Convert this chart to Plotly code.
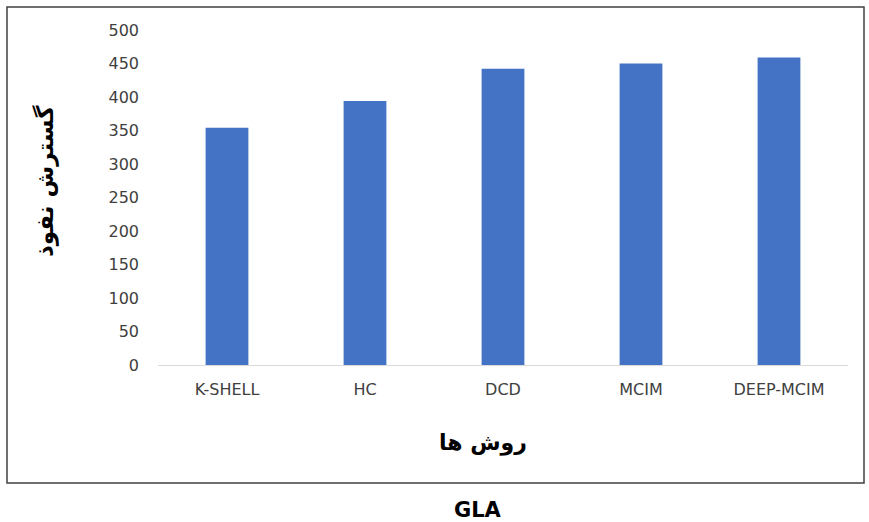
import plotly.graph_objects as go

# Methods and their influence spread on the GLA network
methods = ["K-SHELL", "HC", "DCD", "MCIM", "DEEP-MCIM"]
spread = [354, 394, 442, 450, 459]
y_ticks = [0, 50, 100, 150, 200, 250, 300, 350, 400, 450, 500]

W, H = 869, 522
L, R, T, B = 158, 21, 30, 157
pw, ph = W - L - R, H - T - B


def px_x(x):
    return (x - L) / pw


def px_y(y):
    return (H - B - y) / ph


fig = go.Figure(
    go.Bar(
        x=methods,
        y=spread,
        marker=dict(color="#4472C4", line=dict(width=0)),
        width=0.31,
    )
)

fig.update_layout(
    width=W,
    height=H,
    margin=dict(l=L, r=R, t=T, b=B),
    paper_bgcolor="white",
    plot_bgcolor="white",
    showlegend=False,
    font=dict(family="DejaVu Sans", color="#404040", size=16),
)

fig.update_xaxes(
    showgrid=False,
    showline=True,
    linecolor="#D9D9D9",
    linewidth=1,
    ticks="",
    tickfont=dict(size=16, color="#404040"),
    ticklabelstandoff=10,
)
fig.update_yaxes(
    range=[0, 500],
    tickvals=y_ticks,
    showgrid=False,
    showline=False,
    zeroline=False,
    ticks="",
    tickfont=dict(size=16, color="#404040"),
    ticklabelstandoff=18,
)

# Outer frame around the chart body
fig.add_shape(
    type="rect",
    xref="paper",
    yref="paper",
    x0=px_x(7),
    x1=px_x(864),
    y0=px_y(483),
    y1=px_y(7),
    line=dict(color="#404040", width=1.5),
    fillcolor="rgba(0,0,0,0)",
    layer="below",
)

# Axis titles and caption
fig.add_annotation(
    text="گسترش نفوذ",
    xref="paper",
    yref="paper",
    x=px_x(45),
    y=px_y(181),
    xanchor="center",
    yanchor="middle",
    textangle=-90,
    showarrow=False,
    font=dict(family="DejaVu Sans", size=23, color="black", weight="bold"),
)
fig.add_annotation(
    text="روش ها",
    xref="paper",
    yref="paper",
    x=px_x(483),
    y=px_y(443),
    xanchor="center",
    yanchor="middle",
    showarrow=False,
    font=dict(family="DejaVu Sans", size=22, color="black", weight="bold"),
)
fig.add_annotation(
    text="GLA",
    xref="paper",
    yref="paper",
    x=px_x(478),
    y=px_y(510),
    xanchor="center",
    yanchor="middle",
    showarrow=False,
    font=dict(family="DejaVu Sans", size=21, color="black", weight="bold"),
)

fig.write_html("out.html")
